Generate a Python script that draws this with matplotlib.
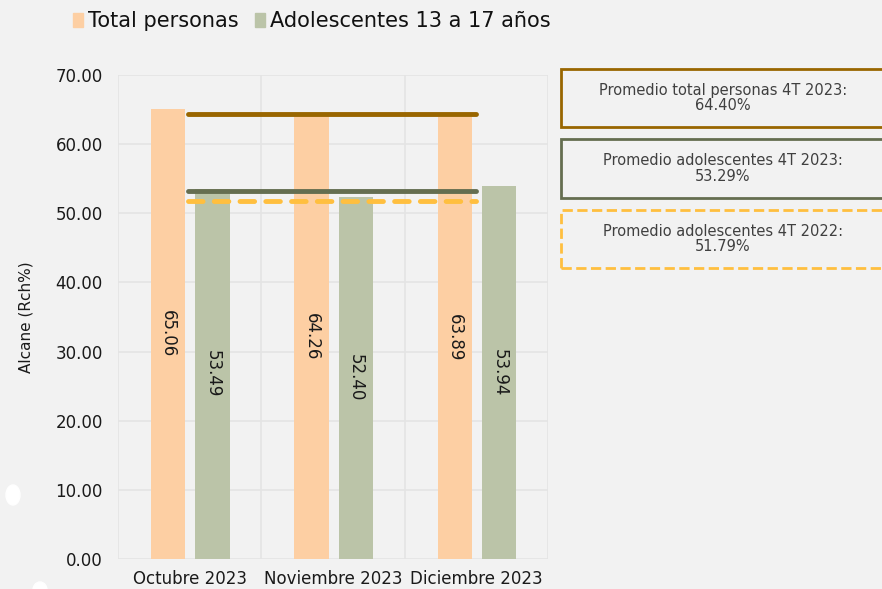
import numpy as np
import matplotlib.pyplot as plt
from matplotlib.patches import Ellipse

# data
months = ['Octubre 2023', 'Noviembre 2023', 'Diciembre 2023']
total_personas = [65.06, 64.26, 63.89]
adolescentes = [53.49, 52.40, 53.94]
avg_total_2023 = 64.40
avg_adol_2023 = 53.29
avg_adol_2022 = 51.79

BG = '#f2f2f2'
ORANGE = '#fdcfa3'
GREEN = '#bbc4a8'
BROWN = '#996600'
OLIVE = '#656e50'
YELLOW = '#ffbf3f'

plt.rcParams['font.family'] = ['DejaVu Sans']

fig = plt.figure(figsize=(8.82, 5.89), dpi=100, facecolor=BG)
ax = fig.add_axes([0.1338, 0.0509, 0.4875, 0.8218], facecolor=BG)

x = np.arange(len(months))
w = 0.24
b1 = ax.bar(x - 0.15, total_personas, w, color=ORANGE, zorder=2)
b2 = ax.bar(x + 0.16, adolescentes, w, color=GREEN, zorder=2)

for bars, vals in ((b1, total_personas), (b2, adolescentes)):
    for r, v in zip(bars, vals):
        ax.text(r.get_x() + r.get_width() / 2, v / 2, f'{v:.2f}',
                rotation=270, ha='center', va='center', fontsize=12,
                color='#1a1a1a', zorder=3)

ax.plot([-0.01, 2.0], [avg_total_2023] * 2, color=BROWN, lw=3.5,
        solid_capstyle='round', zorder=4)
ax.plot([-0.01, 2.0], [avg_adol_2023] * 2, color=OLIVE, lw=3.5,
        solid_capstyle='round', zorder=4)
ax.plot([-0.01, 2.0], [avg_adol_2022] * 2, color=YELLOW, lw=3.5,
        ls=(0, (3, 2.3)), dash_capstyle='round', zorder=4)

ax.set_xlim(-0.5, 2.5)
ax.set_ylim(0, 70)
ax.set_yticks(np.arange(0, 71, 10))
ax.set_yticklabels([f'{v:.2f}' for v in np.arange(0, 71, 10)])
ax.set_xticks(x)
ax.set_xticklabels(months)
ax.set_xticks([-0.5, 0.5, 1.5, 2.5], minor=True)
ax.grid(axis='y', color='#e4e4e4', lw=1.2, zorder=0)
ax.grid(axis='x', which='minor', color='#e4e4e4', lw=1.2, zorder=0)
ax.tick_params(axis='both', which='both', length=0, labelsize=12,
               colors='#1a1a1a')
ax.tick_params(axis='y', pad=11)
ax.tick_params(axis='x', pad=8)
for s in ax.spines.values():
    s.set_visible(False)
ax.set_ylabel('Alcane (Rch%)', fontsize=11, color='#1a1a1a', labelpad=16)

# legend
fig.patches.append(plt.Rectangle((73 / 882, 1 - 27 / 589), 10 / 882, 14 / 589,
                                 transform=fig.transFigure, color=ORANGE))
fig.text(88 / 882, 1 - 21 / 589, 'Total personas', fontsize=15,
         va='center', color='#111111')
fig.patches.append(plt.Rectangle((255 / 882, 1 - 27 / 589), 10 / 882, 14 / 589,
                                 transform=fig.transFigure, color=GREEN))
fig.text(270 / 882, 1 - 21 / 589, 'Adolescentes 13 a 17 años', fontsize=15,
         va='center', color='#111111')

# summary boxes
boxes = [
    (69, 127, BROWN, '-', f'Promedio total personas 4T 2023:\n{avg_total_2023:.2f}%'),
    (139, 198, OLIVE, '-', f'Promedio adolescentes 4T 2023:\n{avg_adol_2023:.2f}%'),
    (210, 268, YELLOW, '--', f'Promedio adolescentes 4T 2022:\n{avg_adol_2022:.2f}%'),
]
for top, bot, col, ls, txt in boxes:
    rect = plt.Rectangle((561 / 882, 1 - bot / 589), 330 / 882,
                         (bot - top) / 589, transform=fig.transFigure,
                         facecolor=BG, edgecolor=col, lw=2, ls=ls)
    fig.patches.append(rect)
    fig.text(723 / 882, 1 - (top + bot) / 2 / 589, txt, fontsize=10.5,
             ha='center', va='center', color='#404040', linespacing=1.05)

# white marks on the left edge
fig.patches.append(Ellipse((13 / 882, 1 - 495 / 589), 14 / 882, 20 / 589,
                           transform=fig.transFigure, color='white'))
fig.patches.append(Ellipse((40 / 882, 1 - 590 / 589), 14 / 882, 16 / 589,
                           transform=fig.transFigure, color='white'))

fig.savefig('out.png', dpi=100, facecolor=BG)
